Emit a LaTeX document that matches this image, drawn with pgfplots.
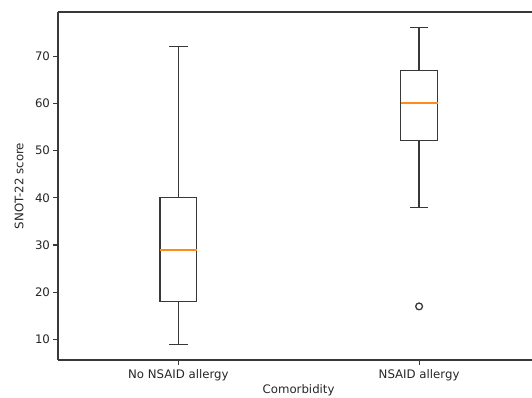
\documentclass[border=0pt]{standalone}
\usepackage{pgfplots}
\pgfplotsset{compat=1.18}
\usepackage{fontspec}
\setmainfont{DejaVu Sans}
\definecolor{mplorange}{HTML}{FF8C1A}
\definecolor{spine}{HTML}{383838}
\begin{document}
\begin{tikzpicture}
\begin{axis}[
  name=ax,
  scale only axis,
  width=474bp, height=348bp,
  xmin=0.5, xmax=2.469,
  ymin=5.65, ymax=79.35,
  axis x line*=box, axis y line*=left,
  axis line style={spine, line width=1.3bp},
  xtick={1,2}, xticklabels={No NSAID allergy, NSAID allergy},
  ytick={10,20,30,40,50,60,70},
  xtick pos=bottom, ytick pos=left,
  tick align=outside, major tick length=4.5bp,
  tick style={spine, line width=1.1bp},
  /pgf/number format/assume math mode=true,
  ticklabel style={font=\fontsize{11.8}{13}\selectfont, text=black!85},
  xticklabel style={yshift=-2bp},
  label style={font=\fontsize{11.8}{13}\selectfont, text=black!85},
  xlabel={Comorbidity},
  ylabel={SNOT-22 score},
  xlabel style={at={(axis description cs:0.5076,0)}, anchor=north, yshift=-21bp},
  ylabel style={at={(axis description cs:0,0.5)}, anchor=south, yshift=31bp},
  unbounded coords=jump,
]
% box 1
\addplot[spine, line width=1.3bp, line cap=rect, mark=none] coordinates {
  (0.9235,18) (1.0765,18) (1.0765,40) (0.9235,40) (0.9235,18)};
\addplot[spine, line width=1.3bp, mark=none] coordinates {
  (1,18) (1,9) (1,nan) (0.962,9) (1.038,9) (1,nan)
  (1,40) (1,72) (1,nan) (0.962,72) (1.038,72)};
\addplot[mplorange, line width=2bp, mark=none] coordinates {(0.9235,29) (1.0765,29)};
% box 2
\addplot[spine, line width=1.3bp, line cap=rect, mark=none] coordinates {
  (1.9235,52.2) (2.0765,52.2) (2.0765,67) (1.9235,67) (1.9235,52.2)};
\addplot[spine, line width=1.3bp, mark=none] coordinates {
  (2,52.2) (2,38) (2,nan) (1.962,38) (2.038,38) (2,nan)
  (2,67) (2,76) (2,nan) (1.962,76) (2.038,76)};
\addplot[mplorange, line width=2bp, mark=none] coordinates {(1.9235,60) (2.0765,60)};
% outlier
\addplot[only marks, spine, mark=o, mark size=3.4pt, mark options={line width=1.3bp}]
  coordinates {(2,17)};
\end{axis}
\pgfresetboundingbox
\path ([shift={(-58bp,-38bp)}]ax.south west) rectangle ([yshift=12bp]ax.north east);
\end{tikzpicture}
\end{document}
